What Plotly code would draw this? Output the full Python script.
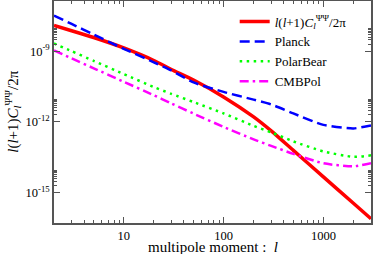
import plotly.graph_objects as go
import math

ell = [2, 3, 5, 10, 20, 30, 50, 100, 200, 300, 500, 1000, 2000, 3000]
signal = [1.23e-8, 7.4e-9, 3.8e-9, 1.37e-9, 4.04e-10, 1.68e-10, 6.0e-11, 1.15e-11,
          1.63e-12, 4.16e-13, 6.2e-14, 4.67e-15, 3.52e-16, 7.8e-17]
planck = [3.26e-8, 1.44e-8, 5.05e-9, 1.26e-9, 3.39e-10, 1.52e-10, 4.72e-11, 1.87e-11,
          8.8e-12, 5.5e-12, 2.29e-12, 7.46e-13, 5.3e-13, 7.1e-13]
polarbear = [2.12e-9, 1.01e-9, 3.88e-10, 1.07e-10, 3.01e-11, 1.55e-11, 6.97e-12, 2.29e-12,
             6.78e-13, 3.59e-13, 1.49e-13, 5.62e-14, 3.29e-14, 3.81e-14]
cmbpol = [1.07e-9, 5.0e-10, 1.88e-10, 5.05e-11, 1.35e-11, 6.03e-12, 2.25e-12, 6.14e-13,
          1.81e-13, 9.6e-14, 4.41e-14, 1.75e-14, 1.30e-14, 1.75e-14]

ytitle = "<i>l</i>(<i>l</i>+1)<i>C</i><sub><i>l</i></sub><sup>ΨΨ</sup>/2π"
names = [ytitle, "Planck", "PolarBear", "CMBPol"]
xtitle = "multipole moment :  <i>l</i>"

x_major = [10, 100, 1000]
x_labels = ["10", "100", "1000"]
y_major = [1e-9, 1e-12, 1e-15]
y_labels = ["10<sup>-9</sup>", "10<sup>-12</sup>", "10<sup>-15</sup>"]

x_minor = [k * 10 ** e for e in range(0, 4) for k in range(2, 10) if k * 10 ** e <= 3000]
y_minor = [k * 10.0 ** e for e in (-9, -12, -15) for k in range(2, 10)]

font = "Liberation Serif, DejaVu Serif, serif"
fig = go.Figure()
styles = [
    dict(color="#ff0000", width=3.5, dash="solid"),
    dict(color="#0000ff", width=2.5, dash="10px,5px"),
    dict(color="#00ff00", width=2.5, dash="2.5px,4.5px"),
    dict(color="#ff00ff", width=2.5, dash="9px,4px,2.5px,4px"),
]
for ys, nm, st in zip([signal, planck, polarbear, cmbpol], names, styles):
    fig.add_trace(go.Scatter(x=ell, y=ys, mode="lines", name=nm,
                             line=dict(shape="spline", smoothing=0.6, **st)))

axcol = "#555555"
common = dict(showgrid=False, zeroline=False, automargin=False,
              showline=True, mirror="allticks", linecolor=axcol, linewidth=1.5,
              ticks="inside", ticklen=6, tickwidth=1, tickcolor=axcol,
              tickmode="array", tickfont=dict(family=font, size=12.5, color="black"))
fig.update_layout(
    width=374, height=254,
    margin=dict(l=54, r=3, t=1, b=31),
    paper_bgcolor="white", plot_bgcolor="white",
    font=dict(family=font, size=13, color="black"),
    showlegend=True,
    legend=dict(x=0.57, y=0.975, xanchor="left", yanchor="top",
                bgcolor="rgba(0,0,0,0)", font=dict(family=font, size=13),
                tracegroupgap=0),
    xaxis=dict(type="log", range=[math.log10(2), math.log10(3000)],
               tickvals=x_major, ticktext=x_labels,
               minor=dict(tickmode="array", tickvals=x_minor, ticks="inside",
                          ticklen=3, tickcolor=axcol, showgrid=False),
               **common),
    yaxis=dict(type="log", range=[-16.29, -6.87],
               tickvals=y_major, ticktext=y_labels,
               minor=dict(tickmode="array", tickvals=y_minor, ticks="inside",
                          ticklen=3, tickcolor=axcol, showgrid=False),
               **common),
)
fig.add_annotation(text=xtitle, xref="paper", yref="paper", x=0.5, y=0,
                   xanchor="center", yanchor="middle", yshift=-24, showarrow=False,
                   font=dict(family=font, size=15, color="black"))
fig.add_annotation(text=ytitle, xref="paper", yref="paper", x=-0.13, y=0.5,
                   xanchor="center", yanchor="middle", textangle=-90, showarrow=False,
                   font=dict(family=font, size=15, color="black"))
fig.write_html("out.html", config={"displayModeBar": False},
               post_script="document.body.style.margin='0';document.body.style.padding='0';")
